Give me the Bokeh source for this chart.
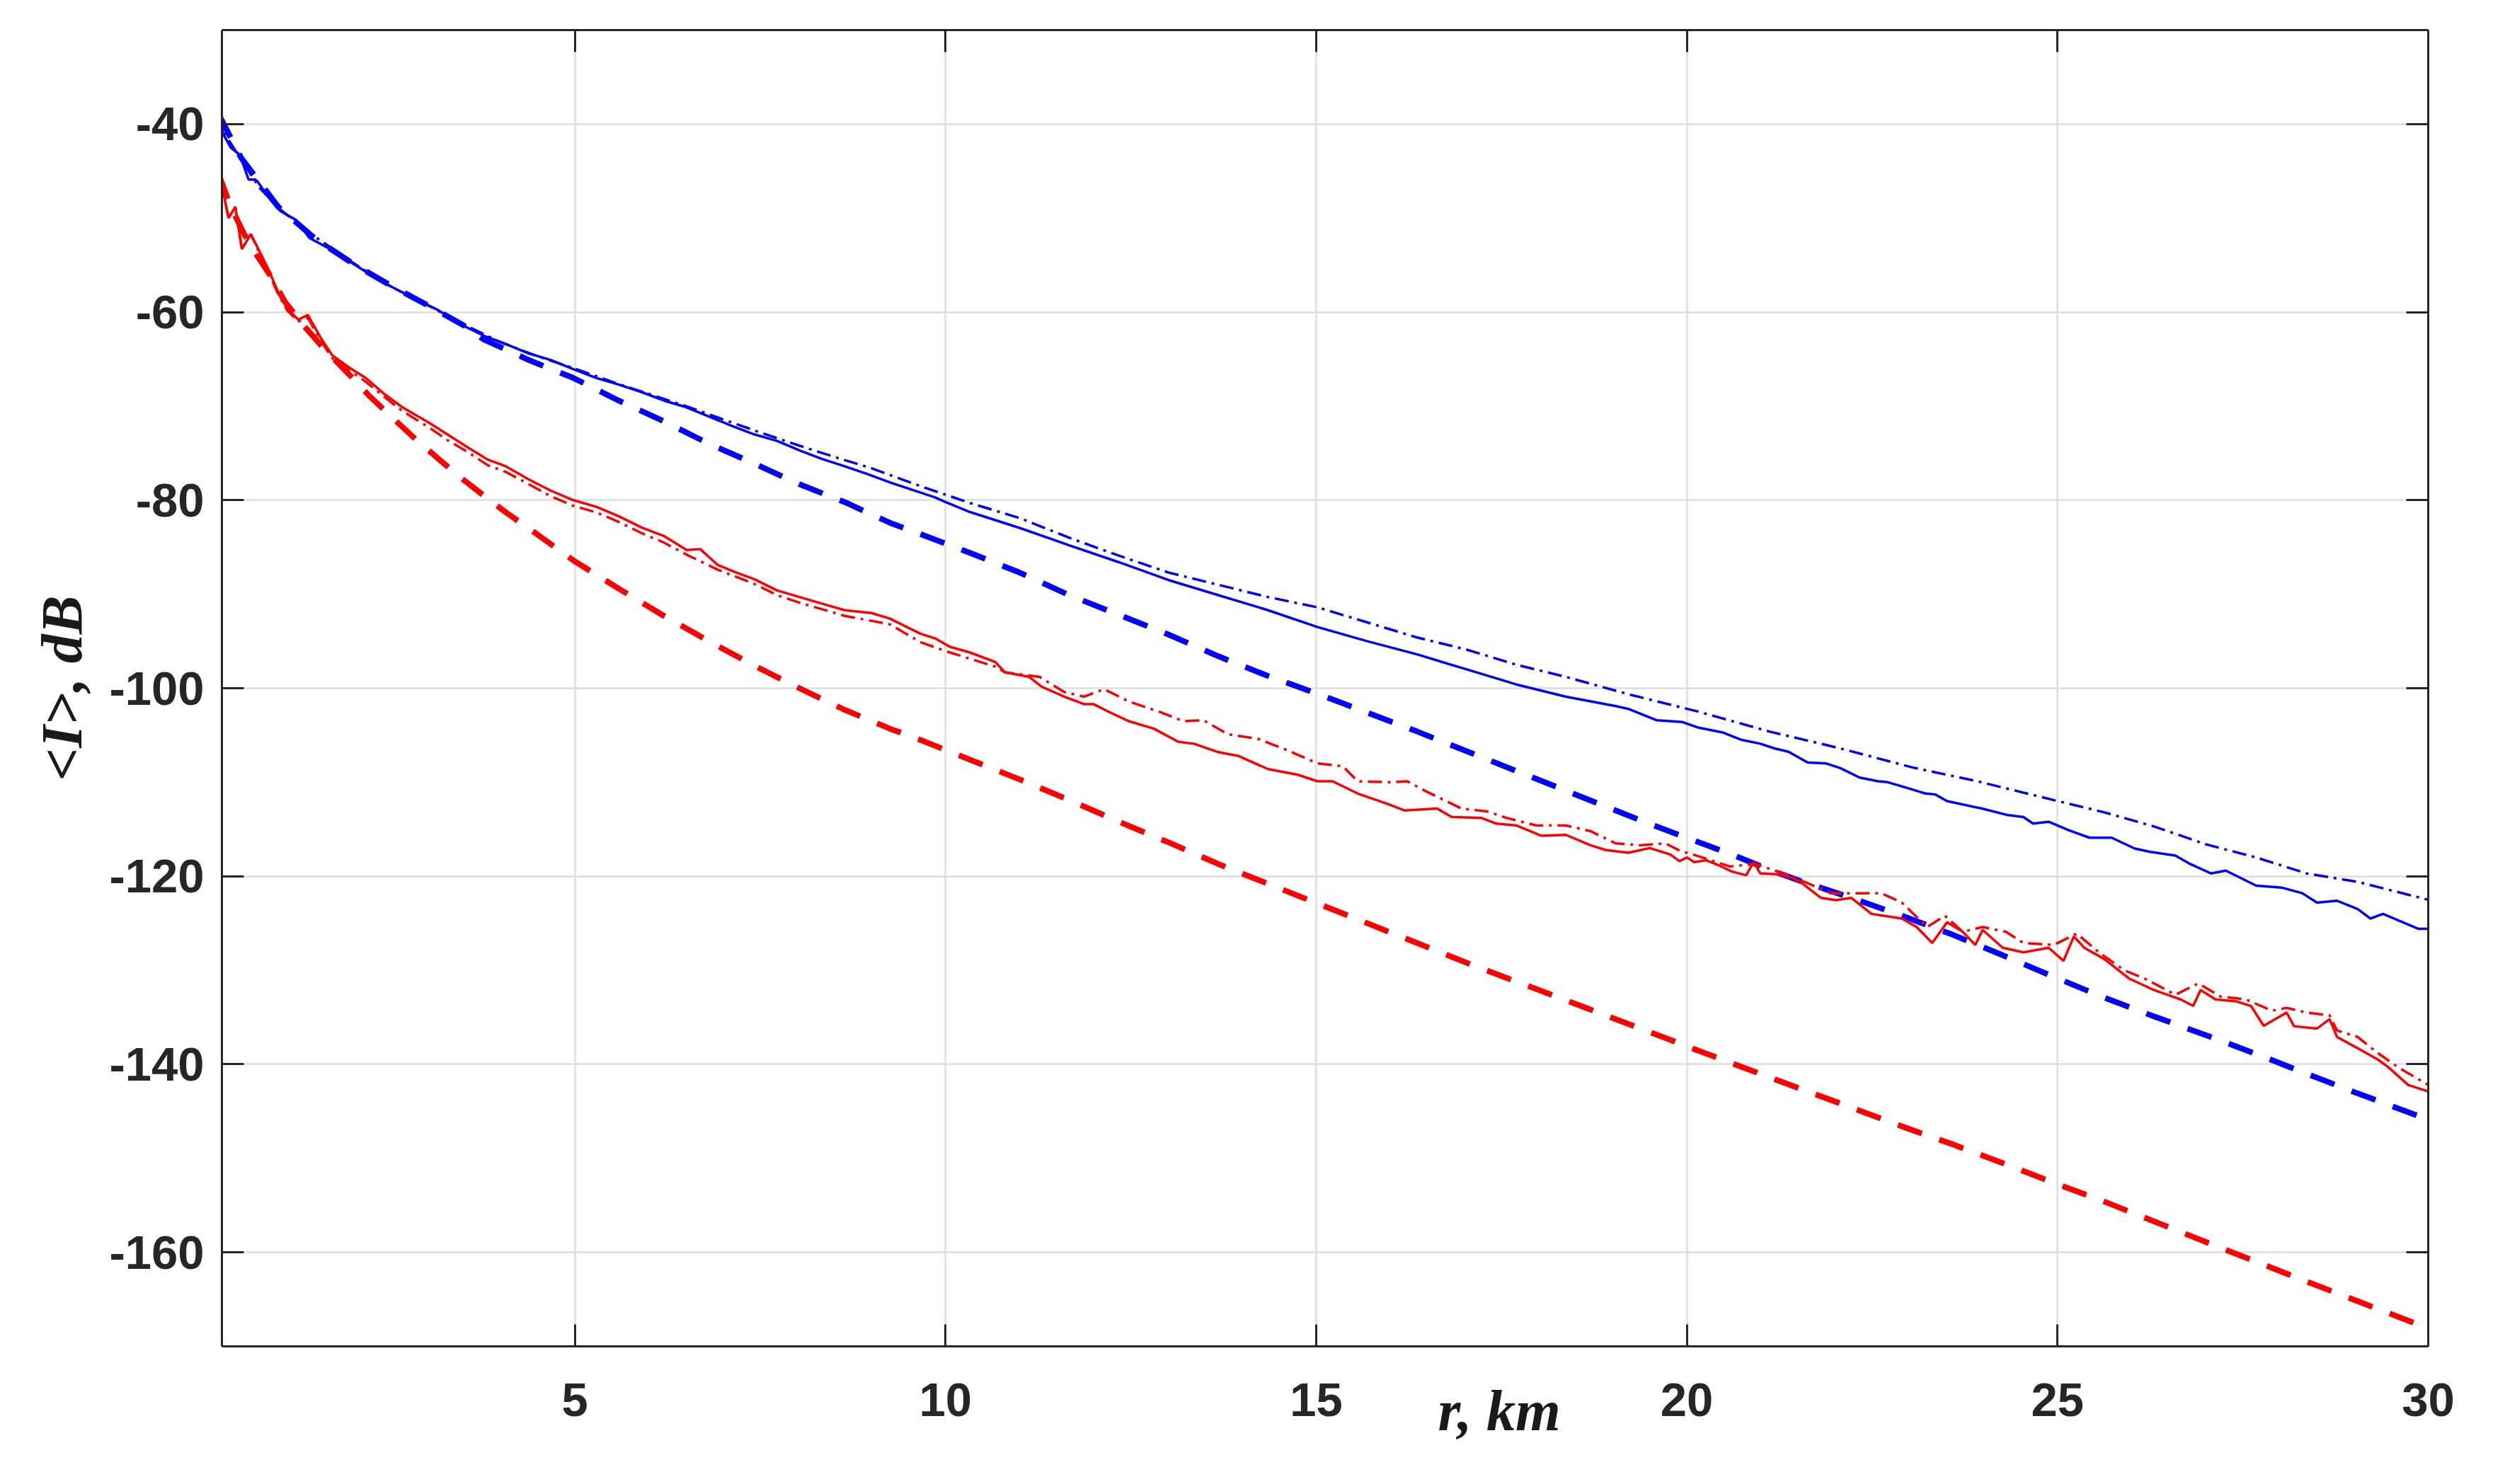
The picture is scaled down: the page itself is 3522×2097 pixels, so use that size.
import math
from bokeh.plotting import figure
from bokeh.models import Range1d, LinearAxis, FixedTicker
from bokeh.embed import file_html
from bokeh.resources import INLINE

# ---------------- data ----------------
x_ticks = [5, 10, 15, 20, 25, 30]
y_ticks = [-160, -140, -120, -100, -80, -60, -40]
y_tick_labels = ["-160", "-140", "-120", "-100", "-80", "-60", "-40"]

blue_solid_x = [0.2, 0.26, 0.36, 0.48, 0.6, 0.69, 0.72, 0.9, 1.03, 1.24, 1.42, 1.7, 1.94, 2.24, 2.55,
                2.85, 3.16, 3.46, 3.77, 4.07, 4.38, 4.68, 4.98, 5.29, 5.59, 5.9, 6.2, 6.5, 6.81, 7.12,
                7.42, 7.73, 8.03, 8.33, 8.64, 8.94, 9.25, 9.55, 9.86, 10.0, 10.33, 11.0, 11.67, 12.34,
                13.01, 13.68, 14.35, 15.02, 15.69, 16.36, 17.03, 17.7, 18.37, 19.04, 19.21, 19.59,
                19.94, 20.16, 20.48, 20.74, 20.99, 21.18, 21.37, 21.63, 21.88, 22.07, 22.33, 22.58,
                22.71, 22.97, 23.22, 23.35, 23.51, 23.98, 24.33, 24.54, 24.67, 24.88,
                25.15, 25.43, 25.73, 26.04, 26.25, 26.59, 26.79, 27.07, 27.27, 27.68, 28.02, 28.3,
                28.5, 28.77, 29.05, 29.22, 29.39, 29.66, 29.87, 30.0]
blue_solid_y = [-38.9, -41.1, -42.5, -43.25, -45.9, -45.9, -46.1, -48.1, -49.25, -50.2, -52.1, -53.3,
                -54.5, -56.0, -57.4, -58.6, -59.8, -61.3, -62.5, -63.4, -64.4, -65.1, -66.06, -67.0,
                -67.7, -68.5, -69.4, -70.1, -71.1, -72.1, -73.0, -73.7, -74.7, -75.6, -76.4, -77.2,
                -78.1, -78.9, -79.7, -80.2, -81.26, -82.95, -84.8, -86.6, -88.5, -90.1, -91.7, -93.5,
                -95.0, -96.4, -98.0, -99.6, -100.9, -101.9, -102.2, -103.4, -103.6, -104.2, -104.7,
                -105.5, -105.9, -106.4, -106.75, -107.9, -108.0, -108.5, -109.5, -109.9, -110.0,
                -110.6, -111.2, -111.3, -112.0, -112.8, -113.5, -113.7, -114.4, -114.2, -115.1,
                -115.9, -115.9, -117.05, -117.4, -117.8, -118.7, -119.7, -119.4, -121.0, -121.2,
                -121.8, -122.8, -122.6, -123.5, -124.5, -124.0, -124.9, -125.6, -125.6]

blue_dashdot_x = [0.2, 0.3, 0.5, 0.75, 1.0, 1.25, 1.5, 2.0, 2.5, 3.0, 3.5, 4.0, 4.5, 5.0, 5.5, 6.0,
                  6.5, 7.0, 7.5, 8.03, 8.5, 9.0, 9.66, 10.33, 11.0, 11.67, 12.34, 13.01, 13.68, 14.35,
                  15.02, 15.69, 16.36, 17.03, 17.7, 18.37, 19.24, 20.16, 21.11, 22.07, 23.03, 23.92,
                  24.95, 25.63, 26.3, 27.0, 27.68, 28.36, 29.05, 30.0]
blue_dashdot_y = [-38.9, -41.3, -43.8, -46.8, -48.9, -50.5, -52.0, -54.7, -57.2, -59.2, -61.3, -63.2,
                  -64.7, -66.0, -67.4, -68.7, -70.0, -71.4, -72.8, -74.2, -75.4, -76.6, -78.5, -80.3,
                  -81.9, -84.0, -85.9, -87.7, -89.0, -90.3, -91.4, -93.0, -94.6, -95.9, -97.5, -98.8,
                  -100.7, -102.5, -104.6, -106.4, -108.4, -109.9, -111.9, -113.2, -114.7, -116.6,
                  -118.0, -119.7, -120.6, -122.5]

blue_dashed_x = [0.2, 0.5, 1.0, 1.5, 2.0, 2.5, 3.0, 3.5, 3.77, 4.38, 4.98, 5.59, 6.2, 6.81, 7.42, 8.03,
                 8.64, 9.25, 9.66, 10.33, 11.0, 11.67, 12.34, 13.01, 13.68, 14.35, 15.02, 15.69, 16.36,
                 17.03, 17.7, 18.37, 19.04, 19.52, 20.1, 20.64, 21.18, 21.53, 22.22, 22.9, 23.58,
                 24.26, 24.95, 25.63, 26.3, 27.0, 27.68, 28.36, 29.05, 29.87, 30.0]
blue_dashed_y = [-39.0, -43.6, -48.8, -52.2, -54.8, -57.1, -59.2, -61.4, -62.9, -65.1, -67.0, -69.4,
                 -71.6, -74.0, -76.1, -78.3, -80.2, -82.4, -83.6, -85.6, -87.7, -90.1, -92.2, -94.3,
                 -96.6, -98.7, -100.6, -102.6, -104.6, -106.7, -108.8, -110.9, -113.0, -114.5,
                 -116.2, -117.8, -119.5, -120.5, -122.3, -124.2, -126.2, -128.4, -130.7, -132.9,
                 -134.9, -136.9, -138.9, -141.0, -143.1, -145.5, -145.9]

red_solid_x = [0.2, 0.26, 0.33, 0.42, 0.51, 0.63, 0.78, 0.87, 1.0, 1.12, 1.27, 1.4, 1.57, 1.73, 1.94,
               2.18, 2.43, 2.67, 3.04, 3.28, 3.58, 3.83, 4.07, 4.38, 4.68, 4.98, 5.29, 5.59, 5.9, 6.2,
               6.51, 6.69, 6.93, 7.18, 7.42, 7.73, 8.03, 8.33, 8.64, 9.0, 9.25, 9.66, 9.86, 10.06,
               10.33, 10.67, 10.8, 11.13, 11.3, 11.6, 11.87, 12.0, 12.2, 12.47, 12.81, 13.14, 13.35,
               13.68, 13.95, 14.35, 14.75, 15.02, 15.22, 15.56, 15.96, 16.19, 16.63, 16.83, 17.23,
               17.43, 17.7, 18.04, 18.37, 18.7, 18.9, 19.21, 19.5, 19.78, 19.9, 20.0, 20.1, 20.26,
               20.42, 20.61, 20.8, 20.9, 20.99, 21.24, 21.43, 21.53, 21.81, 22.01, 22.22, 22.49, 22.9,
               23.1, 23.31, 23.51, 23.72, 23.89, 23.99, 24.26, 24.54, 24.88, 25.08, 25.22, 25.36,
               25.63, 25.97, 26.3, 26.66, 26.83, 26.93, 27.13, 27.41, 27.61, 27.78, 28.09, 28.19,
               28.5, 28.67, 28.77, 29.05, 29.32, 29.46, 29.73, 30.0]
red_solid_y = [-45.4, -47.3, -50.0, -48.8, -53.3, -51.7, -54.05, -55.5, -57.9, -59.6, -60.8, -60.3,
               -62.7, -64.6, -65.8, -67.0, -68.7, -70.1, -71.8, -73.0, -74.5, -75.7, -76.4, -77.8,
               -79.0, -80.0, -80.7, -81.7, -82.9, -83.8, -85.3, -85.2, -86.9, -87.7, -88.4, -89.6,
               -90.3, -91.0, -91.7, -92.0, -92.6, -94.2, -94.7, -95.6, -96.2, -97.2, -98.3, -98.8,
               -99.85, -100.9, -101.7, -101.7, -102.5, -103.5, -104.3, -105.7, -105.9, -106.8,
               -107.2, -108.6, -109.2, -109.9, -109.9, -111.2, -112.3, -113.0, -112.8, -113.7,
               -113.8, -114.4, -114.6, -115.7, -115.6, -116.7, -117.2, -117.5, -117.0, -117.7,
               -118.4, -118.0, -118.5, -118.3, -118.8, -119.5, -119.9, -118.5, -119.7, -119.8,
               -120.2, -120.6, -122.3, -122.55, -122.3, -124.0, -124.5, -125.4, -127.1, -124.9,
               -125.9, -127.3, -125.7, -127.6, -128.1, -127.6, -129.0, -126.4, -127.6, -128.8,
               -130.9, -132.1, -133.1, -133.8, -132.1, -133.1, -133.3, -133.8, -135.9, -134.5,
               -135.95, -136.2, -135.2, -137.1, -138.3, -139.5, -140.3, -142.2, -142.9]

red_dashdot_x = [0.2, 0.26, 0.33, 0.42, 0.51, 0.63, 0.78, 0.87, 1.0, 1.12, 1.27, 1.4, 1.57, 1.73,
                 1.94, 2.18, 2.43, 2.67, 3.04, 3.28, 3.58, 3.83, 4.07, 4.38, 4.68, 4.98, 5.29, 5.59,
                 5.9, 6.2, 6.51, 6.93, 7.42, 7.73, 8.03, 8.64, 9.25, 9.66, 10.06, 10.67, 10.8, 11.27,
                 11.6, 11.87, 12.14, 12.47, 12.88, 13.21, 13.48, 13.81, 14.22, 14.55, 15.02, 15.36,
                 15.56, 16.02, 16.23, 16.49, 16.96, 17.3, 17.57, 17.97, 18.37, 18.7, 19.04, 19.38,
                 19.71, 19.91, 20.17, 20.58, 20.92, 21.19, 21.53, 21.94, 22.42, 22.62, 22.9, 23.24,
                 23.48, 23.72, 23.99, 24.3, 24.54, 24.95, 25.26, 25.56, 25.9, 26.18, 26.59, 26.9,
                 27.2, 27.54, 27.89, 28.09, 28.36, 28.67, 28.77, 29.05, 29.32, 29.59, 30.0]
red_dashdot_y = [-45.4, -47.3, -50.0, -48.8, -53.3, -51.7, -54.3, -55.8, -58.1, -59.8, -61.0, -60.6,
                 -63.0, -64.9, -66.1, -67.4, -69.0, -70.5, -72.3, -73.6, -75.0, -76.3, -77.0, -78.3,
                 -79.6, -80.6, -81.3, -82.3, -83.5, -84.5, -85.8, -87.4, -88.9, -90.1, -90.9, -92.3,
                 -93.2, -95.1, -96.2, -97.7, -98.3, -98.8, -100.4, -100.9, -100.1, -101.4, -102.5,
                 -103.5, -103.4, -104.9, -105.4, -106.4, -108.0, -108.3, -109.9, -110.0, -109.9,
                 -111.0, -112.8, -113.1, -113.8, -114.6, -114.6, -115.2, -116.5, -116.7, -116.5,
                 -117.3, -117.9, -118.96, -118.7, -119.4, -120.4, -121.8, -121.8, -121.8, -122.8,
                 -125.4, -124.2, -125.9, -125.4, -125.9, -127.1, -127.3, -126.1, -128.1, -130.0,
                 -130.9, -132.6, -131.4, -132.8, -133.1, -134.3, -134.0, -134.5, -134.8, -136.4,
                 -137.1, -138.8, -140.3, -142.2]

red_dashed_x = [0.2, 0.36, 0.54, 0.72, 0.9, 1.09, 1.33, 1.64, 1.94, 2.24, 2.55, 2.85, 3.16, 3.46, 3.77,
                4.07, 4.38, 4.98, 5.59, 6.2, 6.81, 7.42, 8.03, 8.64, 9.25, 9.66, 10.33, 11.0, 11.67,
                12.34, 13.01, 13.68, 14.35, 15.02, 15.69, 16.36, 17.03, 17.7, 18.37, 19.04, 19.71,
                20.17, 20.85, 21.53, 22.22, 22.9, 23.58, 24.26, 24.95, 25.63, 26.3, 27.0, 27.68,
                28.36, 29.05, 29.87, 30.0]
red_dashed_y = [-45.4, -48.8, -51.7, -54.05, -56.2, -58.9, -61.3, -64.1, -66.5, -69.0, -71.3, -73.5,
                -75.6, -77.6, -79.5, -81.3, -83.0, -86.4, -89.4, -92.3, -95.0, -97.6, -100.0, -102.3,
                -104.3, -105.5, -107.6, -109.7, -111.9, -114.2, -116.4, -118.7, -120.8, -122.9,
                -125.0, -127.1, -129.2, -131.2, -133.2, -135.2, -137.2, -138.6, -140.6, -142.6,
                -144.6, -146.6, -148.5, -150.5, -152.6, -154.6, -156.7, -158.9, -161.0, -163.1,
                -165.2, -167.7, -168.1]

x_label = "r, km"
y_label = "<I>, dB"
x_label_pos = [17.47]

# ---------------- figure ----------------
AX = "#262626"
TICK_FONT = "Liberation Sans"
LABEL_FONT = "Liberation Serif"

p = figure(width=3506, height=2081, output_backend="svg", toolbar_location=None,
           x_range=Range1d(0.24, 30), y_range=Range1d(-170, -30),
           min_border_left=313, min_border_right=76, min_border_top=42, min_border_bottom=179,
           background_fill_color="white", border_fill_color="white")
p.outline_line_color = None

BLUE = "#0000ff"
RED = "#ff0000"
THIN = 3.5
THICK = 8

p.line(blue_dashed_x, blue_dashed_y, line_color=BLUE, line_width=THICK, line_dash="36 26")
p.line(red_dashed_x, red_dashed_y, line_color=RED, line_width=THICK, line_dash="36 26")
p.line(blue_dashdot_x, blue_dashdot_y, line_color=BLUE, line_width=THIN, line_dash="20 8 4 8")
p.line(red_dashdot_x, red_dashdot_y, line_color=RED, line_width=THIN, line_dash="20 8 4 8")
p.line(blue_solid_x, blue_solid_y, line_color=BLUE, line_width=THIN)
p.line(red_solid_x, red_solid_y, line_color=RED, line_width=THIN)

# grid
p.xgrid.ticker = FixedTicker(ticks=x_ticks)
p.ygrid.ticker = FixedTicker(ticks=y_ticks)
for g in (p.xgrid, p.ygrid):
    g.grid_line_color = "#dedede"
    g.grid_line_width = 2.5


def style_axis(ax, ticks, show_labels, standoff=0):
    ax.ticker = FixedTicker(ticks=ticks)
    ax.axis_line_color = AX
    ax.axis_line_width = 3
    ax.major_tick_line_color = AX
    ax.major_tick_line_width = 3
    ax.major_tick_in = 31
    ax.major_tick_out = 0
    ax.minor_tick_line_color = None
    if show_labels:
        ax.major_label_text_font = TICK_FONT
        ax.major_label_text_font_style = "bold"
        ax.major_label_text_font_size = "67px"
        ax.major_label_text_color = AX
        ax.major_label_standoff = standoff
    else:
        ax.major_label_text_font_size = "0px"
        ax.major_label_text_alpha = 0
        ax.major_label_standoff = 0


bottom = p.below[0]
left = p.left[0]
style_axis(bottom, x_ticks, True, 52)
style_axis(left, y_ticks, True, 25)
left.major_label_overrides = {t: s for t, s in zip(y_ticks, y_tick_labels)}

# y axis title
left.axis_label = y_label
left.axis_label_text_font = LABEL_FONT
left.axis_label_text_font_size = "82px"
left.axis_label_text_font_style = "bold italic"
left.axis_label_text_color = "#1a1a1a"
left.axis_label_standoff = 18

top_ax = LinearAxis()
right_ax = LinearAxis()
style_axis(top_ax, x_ticks, False)
style_axis(right_ax, y_ticks, False)
p.add_layout(top_ax, "above")
p.add_layout(right_ax, "right")

# x axis title (placed right of centre, as in the reference), as a label-only axis
title_ax = LinearAxis(ticker=FixedTicker(ticks=x_label_pos))
title_ax.major_label_overrides = {x_label_pos[0]: x_label}
title_ax.axis_line_color = None
title_ax.major_tick_line_color = None
title_ax.minor_tick_line_color = None
title_ax.major_tick_in = 0
title_ax.major_tick_out = 0
title_ax.major_label_standoff = -56
title_ax.major_label_text_font = LABEL_FONT
title_ax.major_label_text_font_size = "82px"
title_ax.major_label_text_font_style = "bold italic"
title_ax.major_label_text_color = "#1a1a1a"
p.add_layout(title_ax, "below")

open("out.html", "w").write(file_html(p, INLINE))
